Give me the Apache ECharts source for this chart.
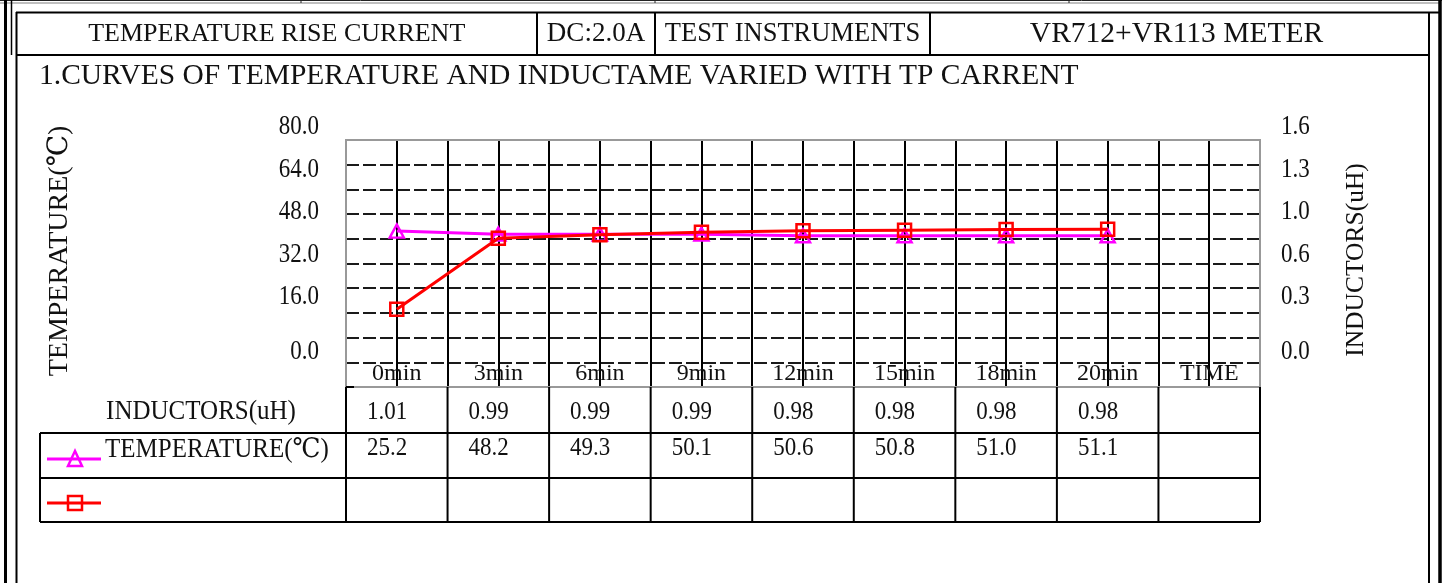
<!DOCTYPE html>
<html><head><meta charset="utf-8">
<script src="https://cdn.jsdelivr.net/npm/echarts@6/dist/echarts.min.js"></script>
<style>html,body{margin:0;padding:0;background:#fff}#c{width:1447px;height:583px}</style>
</head><body><div id="c"></div>
<script>
// ---------- data ----------
const categories = ['0min','3min','6min','9min','12min','15min','18min','20min','TIME'];
const temperature = [25.2, 48.2, 49.3, 50.1, 50.6, 50.8, 51.0, 51.1];
const inductance = [1.01, 0.99, 0.99, 0.99, 0.98, 0.98, 0.98, 0.98];
const leftTickLabels = ['80.0','64.0','48.0','32.0','16.0','0.0'];
const rightTickLabels = ['1.6','1.3','1.0','0.6','0.3','0.0'];
const headerCells = ['TEMPERATURE RISE CURRENT','DC:2.0A','TEST INSTRUMENTS','VR712+VR113 METER'];
const chartTitle = '1.CURVES OF TEMPERATURE AND INDUCTAME VARIED WITH TP CARRENT';
const leftAxisName = 'TEMPERATURE(\u2103)';
const rightAxisName = 'INDUCTORS(uH)';
const tableRowNames = ['INDUCTORS(uH)', 'TEMPERATURE(\u2103)', ''];

// ---------- layout ----------
const FONT = '"Liberation Serif","DejaVu Serif",serif';
const GL = 346, GT = 140, GW = 914, GH = 247;
const cw = GW / categories.length;
const G = [];
function line(x1, y1, x2, y2, stroke, w, z) {
  G.push({type:'line', z: z || 5, silent:true, shape:{x1, y1, x2, y2}, style:{stroke: stroke || '#000', lineWidth: w || 2}});
}
function text(t, x, y, size, align, opts) {
  G.push(Object.assign({type:'text', z:6, silent:true, x, y,
    style:{text:t, x:0, y:0, font: size + 'px ' + FONT, fill:'#111', align: align || 'left', verticalAlign:'middle'}}, opts || {}));
}

// outer frame
line(0, 0.5, 1442, 0.5, '#222', 1);
line(0, 3, 1440, 3, '#aaa', 1.5);
[301, 655, 1069].forEach(x => line(x, 0, x, 3, '#222', 1));
line(5.5, 0, 5.5, 583, '#000', 3);
line(11.5, 0, 11.5, 55, '#000', 1.5);
line(16.5, 12, 16.5, 583, '#000', 2);
line(1429, 12, 1429, 583, '#000', 2);
line(1440, 0, 1440, 583, '#000', 3.5);
// header row
line(16, 12.5, 1440, 12.5, '#000', 2);
line(16, 55, 1429, 55, '#000', 2);
const hdrX = [16.5, 537, 655, 930, 1429];
const hdrSize = [26, 27, 26.5, 29.5];
[537, 655, 930].forEach(x => line(x, 12.5, x, 55, '#000', 2));
headerCells.forEach((t, i) => text(t, (hdrX[i] + hdrX[i+1]) / 2 - (i === 3 ? 3 : 0), 34, hdrSize[i], 'center'));
text(chartTitle, 39, 76, 29.5, 'left');

// axis tick labels (spreadsheet-placed)
const tickY = [127, 170, 212, 255, 297, 352];
leftTickLabels.forEach((t, i) => text(t, 319, tickY[i], 23, 'right', {scaleY: 1.18}));
rightTickLabels.forEach((t, i) => text(t, 1281, tickY[i], 23, 'left', {scaleY: 1.18}));
text(leftAxisName, 60, 251, 28, 'center', {rotation: Math.PI / 2});
text(rightAxisName, 1356, 260, 25.5, 'center', {rotation: Math.PI / 2});

// plot border (gray)
G.push({type:'rect', z:1, silent:true, shape:{x:GL, y:GT, width:GW, height:GH}, style:{fill:null, stroke:'#999', lineWidth:2}});
line(GL, GT + GH, GL + 8, GT + GH, '#000', 2);

// data table
[433, 478, 522].forEach(y => line(40, y, GL + GW, y, '#000', 2));
line(40, 433, 40, 522, '#000', 2);
for (let k = 0; k <= categories.length; k++) {
  const x = GL + k * cw;
  line(x, GT + GH, x, 522, '#000', 2);
}
text(tableRowNames[0], 201, 412, 25, 'center', {scaleY: 1.08});
text(tableRowNames[1], 105, 450, 25, 'left', {scaleY: 1.08});
inductance.forEach((v, k) => text(v.toFixed(2), GL + k * cw + 21, 412, 23, 'left', {scaleY: 1.12}));
temperature.forEach((v, k) => text(v.toFixed(1), GL + k * cw + 21, 448, 23, 'left', {scaleY: 1.12}));
// legend keys in table
line(47, 459, 101, 459, '#FF00FF', 3);
G.push({type:'polygon', z:7, silent:true, shape:{points:[[75, 451], [68, 466], [82, 466]]}, style:{fill:null, stroke:'#FF00FF', lineWidth:2.5}});
line(47, 503, 101, 503, '#FF0000', 3);
G.push({type:'rect', z:7, silent:true, shape:{x:68, y:496, width:14, height:14}, style:{fill:null, stroke:'#FF0000', lineWidth:2.5}});

const chart = echarts.init(document.getElementById('c'));
chart.setOption({
  animation: false,
  backgroundColor: '#fff',
  grid: {left: GL, top: GT, width: GW, height: GH, show: false},
  xAxis: [
    {type:'category', data: categories, boundaryGap: true,
     axisLine:{show:false}, axisTick:{show:false}, splitLine:{show:false},
     axisLabel:{inside:true, margin:1, fontSize:24, fontFamily: FONT, color:'#111', interval:0}},
    {type:'value', min:0, max:categories.length * 2, interval:1, position:'bottom',
     axisLine:{show:false}, axisTick:{show:false}, axisLabel:{show:false},
     splitLine:{show:true, lineStyle:{color:'#000', width:2, type:'solid'}}}
  ],
  yAxis: [
    {type:'value', min:0, max:80, interval:8, position:'left',
     axisLine:{show:false}, axisTick:{show:false}, axisLabel:{show:false},
     splitLine:{show:true, lineStyle:{color:'#1a1a1a', width:2, type:[13, 4]}}},
    {type:'value', min:0, max:1.6, interval:0.16, position:'right',
     axisLine:{show:false}, axisTick:{show:false}, axisLabel:{show:false}, splitLine:{show:false}}
  ],
  series: [
    {name: rightAxisName, type:'line', xAxisIndex:0, yAxisIndex:1, data: inductance,
     symbol:'triangle', symbolSize:[14, 13], z:3,
     lineStyle:{color:'#FF00FF', width:3},
     itemStyle:{color:'transparent', borderColor:'#FF00FF', borderWidth:2.5}},
    {name: leftAxisName, type:'line', xAxisIndex:0, yAxisIndex:0, data: temperature,
     symbol:'rect', symbolSize:13, z:4,
     lineStyle:{color:'#FF0000', width:3},
     itemStyle:{color:'transparent', borderColor:'#FF0000', borderWidth:2.5}}
  ],
  graphic: {elements: G}
});
</script>
</body></html>
